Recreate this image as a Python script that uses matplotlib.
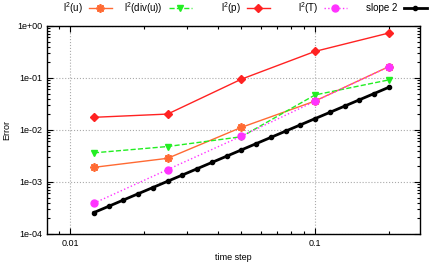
import matplotlib
matplotlib.use('Agg')
from matplotlib import pyplot as plt
from matplotlib.ticker import LogLocator, NullFormatter, FixedLocator, FixedFormatter

plt.rcParams['font.family'] = ['Liberation Sans', 'DejaVu Sans']
plt.rcParams['mathtext.fontset'] = 'custom'
plt.rcParams['mathtext.rm'] = 'Liberation Sans'

dt = [0.0125, 0.025, 0.05, 0.1, 0.2]
err_u = [0.00191, 0.00285, 0.0112, 0.036, 0.165]
err_divu = [0.00363, 0.0048, 0.0074, 0.0471, 0.0916]
err_p = [0.0175, 0.0202, 0.0946, 0.324, 0.73]
err_T = [0.00039, 0.00173, 0.0076, 0.0356, 0.164]

dt_ref = [0.0125, 0.01436, 0.01649, 0.01895, 0.02176, 0.025, 0.02872, 0.03299,
          0.03789, 0.04353, 0.05, 0.05743, 0.06598, 0.07579, 0.08706, 0.1,
          0.1149, 0.1320, 0.1516, 0.1741, 0.2]
slope2 = [2.58e-4, 3.40e-4, 4.49e-4, 5.93e-4, 7.81e-4, 1.031e-3, 1.359e-3, 1.795e-3,
          2.369e-3, 3.125e-3, 4.125e-3, 5.44e-3, 7.18e-3, 9.48e-3, 1.25e-2, 1.65e-2,
          2.175e-2, 2.87e-2, 3.79e-2, 5.0e-2, 6.6e-2]

fig = plt.figure(figsize=(4.36, 2.62), dpi=100)
ax = fig.add_axes([0.108, 0.107, 0.855, 0.794])

lines = []
lines += ax.plot(dt, err_u, color='#ff6a33', marker=(8, 2, 0), ms=6, mew=1.3, lw=1, label=r'l$^2$(u)')
lines += ax.plot(dt, err_divu, color='#22ee22', marker='v', ms=5, lw=1, ls='--', label=r'l$^2$(div(u))')
lines += ax.plot(dt, err_p, color='#ff2222', marker='D', ms=4, lw=1, label=r'l$^2$(p)')
lines += ax.plot(dt, err_T, color='#ff33ff', marker='o', ms=5, lw=1, ls=':', label=r'l$^2$(T)')
lines += ax.plot(dt_ref, slope2, color='black', marker='o', ms=3, lw=2, label='slope 2')

ax.set_xscale('log')
ax.set_yscale('log')
ax.set_xlim(0.00805, 0.268)
ax.set_ylim(1e-4, 1)

ax.xaxis.set_major_locator(FixedLocator([0.01, 0.1]))
ax.xaxis.set_major_formatter(FixedFormatter(['0.01', '0.1']))
ax.xaxis.set_minor_locator(LogLocator(base=10, subs=range(2, 10)))
ax.xaxis.set_minor_formatter(NullFormatter())
ax.yaxis.set_major_locator(FixedLocator([1e-4, 1e-3, 1e-2, 1e-1, 1]))
ax.yaxis.set_major_formatter(FixedFormatter(['1e-04', '1e-03', '1e-02', '1e-01', '1e+00']))
ax.yaxis.set_minor_locator(LogLocator(base=10, subs=range(2, 10)))
ax.yaxis.set_minor_formatter(NullFormatter())

ax.tick_params(which='both', direction='in', top=True, right=True, labelsize=6.5, width=0.8)
ax.tick_params(which='major', length=4)
ax.tick_params(which='minor', length=2)
ax.grid(True, which='major', color='#aaaaaa', ls=':', lw=0.8)
for s in ax.spines.values():
    s.set_linewidth(1)

ax.set_xlabel('time step', fontsize=6.5)
ax.set_ylabel('Error', fontsize=6.5)

# gnuplot-style key: one entry per slot, text right of sample
key_right = [112, 192, 270, 347, 427]
for ln, xr in zip(lines, key_right):
    fig.legend(handles=[ln], loc='center right', bbox_to_anchor=(xr / 436, 1 - 8 / 262),
               frameon=False, markerfirst=False, fontsize=7, handlelength=2.4,
               handletextpad=0.6, borderaxespad=0, borderpad=0)

fig.savefig('out.png', dpi=100)
